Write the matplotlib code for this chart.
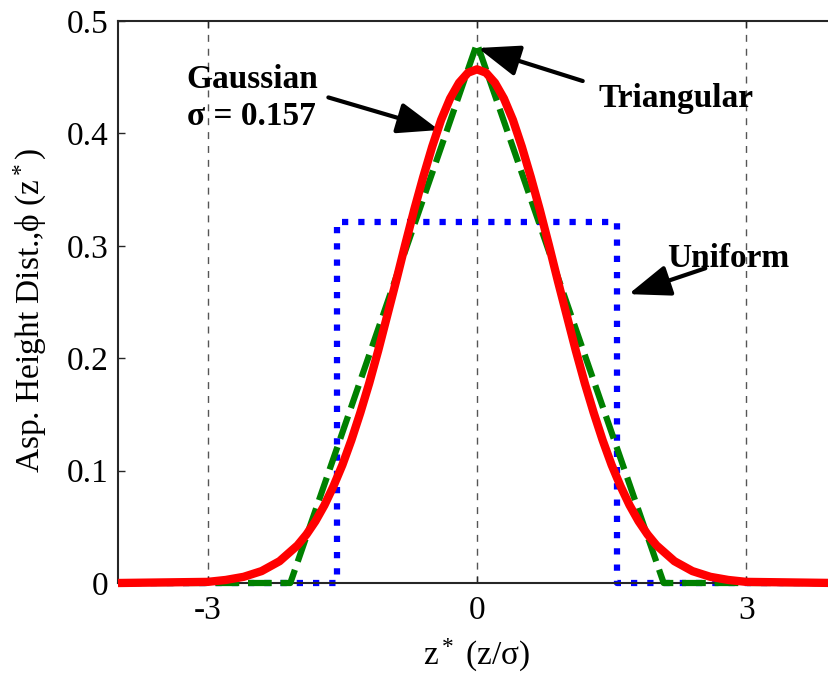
import numpy as np
import matplotlib
matplotlib.use("Agg")
import matplotlib.pyplot as plt

plt.rcParams['font.family'] = ['Liberation Serif', 'DejaVu Serif']
plt.rcParams['mathtext.fontset'] = 'custom'
plt.rcParams['mathtext.rm'] = 'Liberation Serif'
plt.rcParams['mathtext.it'] = 'Liberation Serif:italic'
plt.rcParams['axes.unicode_minus'] = False

# Gaussian
gauss_x = [-4.0, -3.0, -2.8, -2.6, -2.4, -2.2, -2.0, -1.9, -1.8, -1.7, -1.6, -1.5,
           -1.4, -1.3, -1.2, -1.1, -1.0, -0.9, -0.8, -0.7, -0.6, -0.5, -0.4, -0.3,
           -0.2, -0.1, 0.0, 0.1, 0.2, 0.3, 0.4, 0.5, 0.6, 0.7, 0.8, 0.9, 1.0, 1.1,
           1.2, 1.3, 1.4, 1.5, 1.6, 1.7, 1.8, 1.9, 2.0, 2.2, 2.4, 2.6, 2.8, 3.0, 4.0]
gauss_y = [0.0, 0.001, 0.0027, 0.0055, 0.0106, 0.0194, 0.0335, 0.0432, 0.055, 0.0692,
           0.086, 0.105, 0.127, 0.1515, 0.178, 0.207, 0.238, 0.269, 0.301, 0.332,
           0.361, 0.388, 0.412, 0.431, 0.445, 0.454, 0.457, 0.454, 0.445, 0.431,
           0.412, 0.388, 0.361, 0.332, 0.301, 0.269, 0.238, 0.207, 0.178, 0.1515,
           0.127, 0.105, 0.086, 0.0692, 0.055, 0.0432, 0.0335, 0.0194, 0.0106,
           0.0055, 0.0027, 0.001, 0.0]

# Triangular (green dashed)
tri_x = [-4.0, -2.08, 0.0, 2.08, 4.0]
tri_y = [0.0, 0.0, 0.48, 0.0, 0.0]

# Uniform (blue dotted)
uni_x = [-4.0, -1.555, -1.555, 1.555, 1.555, 4.0]
uni_y = [0.0, 0.0, 0.3215, 0.3215, 0.0, 0.0]

xticks = [-3, 0, 3]
xticklabels = ['-3', '0', '3']
yticks = [0, 0.1, 0.2, 0.3, 0.4, 0.5]
yticklabels = ['0', '0.1', '0.2', '0.3', '0.4', '0.5']

W, H = 829, 676
fig = plt.figure(figsize=(W / 100, H / 100), dpi=100)
ax = fig.add_axes([118 / W, (H - 583) / H, (836 - 118) / W, (583 - 21) / H])

for xv in xticks:
    ax.axvline(xv, color='#555555', lw=1.0, dashes=(5, 5), zorder=1)

ax.plot(uni_x, uni_y, color='#0000ff', lw=4.5, linestyle=(0, (1.0, 1.6)),
        dash_capstyle='butt', clip_on=False, zorder=2)
ax.plot(tri_x, tri_y, color='#008000', lw=4.5, linestyle=(0, (3.8, 1.4)),
        dash_capstyle='butt', clip_on=False, zorder=3)
ax.plot(gauss_x, gauss_y, color='#ff0000', lw=6, solid_capstyle='butt',
        solid_joinstyle='round', clip_on=False, zorder=4)

ax.set_xlim(-4, 4)
ax.set_ylim(0, 0.5)
ax.set_xticks(xticks)
ax.set_xticklabels(xticklabels)
ax.set_yticks(yticks)
ax.set_yticklabels(yticklabels)
ax.tick_params(direction='in', length=5, width=1, labelsize=24,
               top=True, right=True, color='#262626')
ax.tick_params(axis='y', pad=7)
ax.tick_params(axis='x', pad=9)
for s in ax.spines.values():
    s.set_color('#262626')
    s.set_linewidth(1.5)

fig.text(30 / W, 1 - 311 / H, 'Asp. Height Dist.,\u03d5 (z$^*$)', rotation=90,
         ha='center', va='center', fontsize=24)
fig.text(477 / W, 1 - 655 / H, 'z$^*$ (z/\u03c3)', ha='center', va='center',
         fontsize=24)

# annotations
ax.text(-3.233, 0.4404, 'Gaussian', fontsize=24, fontweight='bold', va='baseline')
ax.text(-3.233, 0.4075, '\u03c3 = 0.157', fontsize=24, fontweight='bold', va='baseline')
ax.text(1.356, 0.4235, 'Triangular', fontsize=24, fontweight='bold', va='baseline')
ax.text(2.122, 0.2811, 'Uniform', fontsize=24, fontweight='bold', va='baseline')

arrow = dict(arrowstyle='-|>,head_length=0.8,head_width=0.3', lw=3, color='k',
             mutation_scale=32, shrinkA=0, shrinkB=0)
ax.annotate('', xy=(-0.422, 0.403), xytext=(-1.656, 0.432), arrowprops=arrow)
ax.annotate('', xy=(0.011, 0.476), xytext=(1.178, 0.4466), arrowprops=arrow)
ax.annotate('', xy=(1.689, 0.257), xytext=(2.544, 0.280), arrowprops=arrow)

fig.savefig('out.png', dpi=100)
